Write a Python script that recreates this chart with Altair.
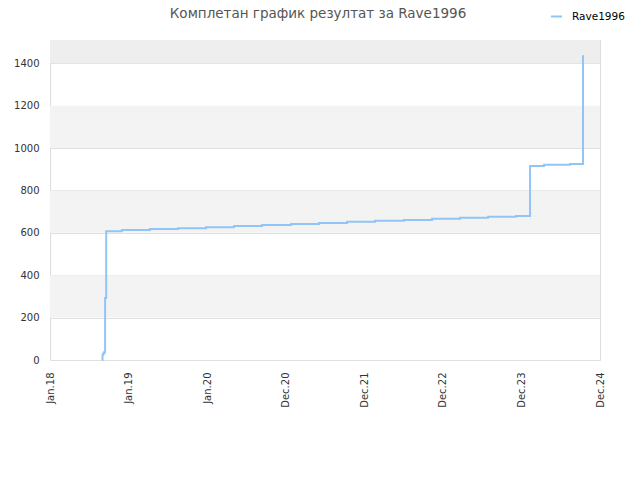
import altair as alt
import pandas as pd

# ---- data ----
dates = [
    "2018-09-01", "2018-09-02", "2018-09-06", "2018-09-10", "2018-09-14",
    "2018-09-19", "2018-12-01", "2019-04-10", "2019-08-18", "2019-12-27",
    "2020-05-05", "2020-09-12", "2021-01-25", "2021-06-04", "2021-10-12",
    "2022-02-19", "2022-07-03", "2022-11-11", "2023-03-21", "2023-07-29",
    "2023-12-06", "2024-02-09", "2024-04-14", "2024-08-13", "2024-10-12",
]
values = [
    0, 25, 32, 38, 292,
    608, 613, 618, 622, 627,
    632, 637, 642, 647, 652,
    657, 661, 666, 671, 676,
    680, 916, 921, 925, 1438,
]
series_name = "Rave1996"
title_text = "Комплетан график резултат за Rave1996"

tick_dates = ["2018-01-01", "2019-01-01", "2020-01-01", "2020-12-31",
              "2021-12-31", "2022-12-31", "2023-12-31", "2024-12-30"]
tick_labels = ["Jan.18", "Jan.19", "Jan.20", "Dec.20",
               "Dec.21", "Dec.22", "Dec.23", "Dec.24"]
x_domain = ["2018-01-01", "2024-12-30"]
y_ticks = [0, 200, 400, 600, 800, 1000, 1200, 1400]
y_max = 1510
band_lo = [200, 600, 1000]
band_hi = [400, 800, 1200]
top_band = [1400, 1510]


def ms(d):
    return int(pd.Timestamp(d, tz="UTC").value // 10**6)


df = pd.DataFrame({"t": [ms(d) for d in dates], "v": values,
                   "series": [series_name] * len(dates)})
bands = pd.DataFrame({"lo": band_lo, "hi": band_hi})
tband = pd.DataFrame({"lo": [top_band[0]], "hi": [top_band[1]]})
title_df = pd.DataFrame({"txt": [title_text]})

tick_ms = [ms(d) for d in tick_dates]
label_expr = " : ".join(f"datum.value == {m} ? '{lab}'"
                        for m, lab in zip(tick_ms, tick_labels)) + " : ''"

xscale = alt.Scale(domain=[ms(x_domain[0]), ms(x_domain[1])], nice=False, zero=False)
yscale = alt.Scale(domain=[0, y_max], nice=False)

FONT = "DejaVu Sans"

band_layer = alt.Chart(bands).mark_rect(color="#f3f3f3").encode(
    y=alt.Y("lo:Q", scale=yscale),
    y2="hi:Q",
)
top_layer = alt.Chart(tband).mark_rect(color="#eeeeee").encode(
    y=alt.Y("lo:Q", scale=yscale),
    y2="hi:Q",
)

line = alt.Chart(df).mark_line(interpolate="step-after", strokeWidth=2).encode(
    x=alt.X("t:Q", scale=xscale,
            axis=alt.Axis(values=tick_ms, labelExpr=label_expr, labelAngle=270,
                          title=None, grid=False, ticks=False, domain=False,
                          labelPadding=12, labelFontSize=10, labelFont=FONT,
                          labelColor="#333333", labelFlush=False)),
    y=alt.Y("v:Q", scale=yscale,
            axis=alt.Axis(values=y_ticks, format="d", title=None, ticks=False,
                          domain=False, gridColor="#e0e0e0", labelPadding=11,
                          labelFontSize=10, labelFont=FONT, labelColor="#333333")),
    color=alt.Color("series:N", scale=alt.Scale(range=["#92c5f5"]),
                    legend=alt.Legend(title=None, orient="none", legendX=500,
                                      legendY=-30, labelFont=FONT, labelFontSize=10.5,
                                      labelColor="#000000", symbolType="stroke",
                                      symbolStrokeWidth=2, symbolSize=121,
                                      labelOffset=9, padding=0)),
)

title_mark = alt.Chart(title_df).mark_text(
    font=FONT, fontSize=13.5, color="#555555", align="center", baseline="alphabetic"
).encode(
    text="txt:N",
    x=alt.value(268),
    y=alt.value(-22),
)

chart = alt.layer(band_layer, top_layer, line, title_mark).properties(
    width=550, height=320,
    autosize=alt.AutoSizeParams(type="none"),
    padding={"left": 42, "top": 32, "right": 30, "bottom": 100},
).configure_view(stroke="#dddddd", strokeWidth=1)

chart.save("out.html", embed_options={"renderer": "svg", "actions": False})
